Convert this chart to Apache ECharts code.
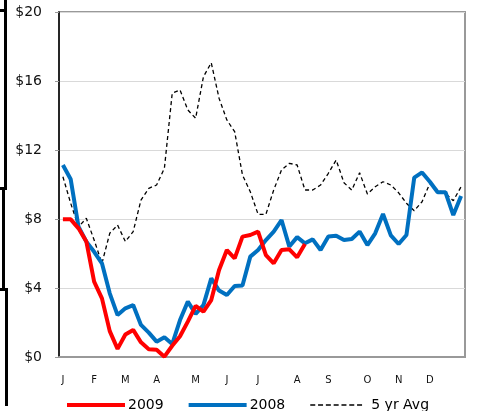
<!DOCTYPE html>
<html>
<head>
<meta charset="utf-8">
<script src="https://cdn.jsdelivr.net/npm/echarts@6/dist/echarts.min.js"></script>
<style>
html,body{margin:0;padding:0;background:#fff;}
#c{width:482px;height:411px;}
</style>
</head>
<body>
<div id="c"></div>
<script>
// Weekly data, 52 weeks
const weeks = Array.from({length: 52}, (_, i) => 'W' + (i + 1));
const monthTicks = ['J','F','M','A','M','J','J','A','S','O','N','D'];
const monthWeekIdx = [0,4,8,12,17,21,25,30,34,39,43,47];
const yTicks = [0, 4, 8, 12, 16, 20];
const seriesNames = ['2009', '2008', '5 yr Avg'];

const s2009 = [7.98,7.98,7.46,6.7,4.37,3.4,1.5,0.47,1.3,1.57,0.85,0.45,0.42,0.02,0.65,1.2,2.05,2.96,2.63,3.3,5.04,6.2,5.72,6.98,7.07,7.27,5.91,5.43,6.2,6.24,5.78,6.55,
  null,null,null,null,null,null,null,null,null,null,null,null,null,null,null,null,null,null,null,null];
const s2008 = [11.13,10.3,7.55,6.69,6.1,5.43,3.69,2.43,2.82,3.01,1.86,1.41,0.89,1.14,0.75,2.14,3.21,2.5,3.01,4.56,3.85,3.59,4.12,4.15,5.82,6.2,6.78,7.27,7.94,6.4,6.95,6.59,
  6.82,6.2,6.98,7.03,6.78,6.84,7.27,6.49,7.17,8.29,7.05,6.55,7.07,10.4,10.7,10.16,9.55,9.55,8.23,9.33];
const sAvg = [10.45,8.91,7.55,8.04,6.78,5.43,7.17,7.65,6.69,7.27,9.1,9.78,9.97,10.94,15.29,15.48,14.32,13.84,16.25,17.06,15.0,13.74,13.06,10.55,9.58,8.27,8.27,9.68,10.84,11.23,11.13,9.68,
  9.68,9.97,10.65,11.42,10.1,9.68,10.68,9.45,9.87,10.16,9.97,9.52,8.91,8.48,9.0,10.07,9.68,9.49,9.06,9.87];

const FONT = '"DejaVu Sans", Arial, sans-serif';
const chart = echarts.init(document.getElementById('c'), null, {renderer: 'canvas'});
const labelMap = {};
monthWeekIdx.forEach((w, k) => { labelMap[w] = monthTicks[k]; });

// dashed legend icon: 7 dashes over ~52px inside a 58x4 box
let dashPath = 'path://M0,0h0.01v0.01h-0.01z M57.99,3.99h0.01v0.01h-0.01z';
for (let k = 0; k < 7; k++) {
  dashPath += ' M' + (k * 7.8).toFixed(2) + ',1.2h5v1.6h-5z';
}

chart.setOption({
  animation: false,
  backgroundColor: '#fff',
  grid: {left: 59, right: 17, top: 12, bottom: 54, show: true, borderColor: '#999', borderWidth: 2, backgroundColor: 'transparent'},
  xAxis: {
    type: 'category',
    data: weeks,
    boundaryGap: true,
    axisLine: {show: true, lineStyle: {color: '#999', width: 2}},
    axisTick: {show: false},
    splitLine: {show: false},
    axisLabel: {
      interval: 0,
      margin: 18,
      fontFamily: FONT,
      fontSize: 10,
      color: '#111',
      formatter: (v, i) => labelMap[i] || ''
    }
  },
  yAxis: {
    type: 'value',
    min: yTicks[0],
    max: yTicks[yTicks.length - 1],
    interval: 4,
    axisLine: {show: true, lineStyle: {color: '#000', width: 1.5}},
    axisTick: {show: true, length: 4, lineStyle: {color: '#999'}},
    splitLine: {show: true, lineStyle: {color: '#d9d9d9', width: 1}},
    axisLabel: {
      margin: 17,
      fontFamily: FONT,
      fontSize: 14,
      color: '#111',
      formatter: v => '$' + v
    }
  },
  legend: {
    left: 67,
    top: 398,
    padding: 0,
    itemWidth: 58,
    itemHeight: 4,
    itemGap: 25,
    itemStyle: {borderWidth: 0},
    textStyle: {fontFamily: FONT, fontSize: 14, color: '#000', padding: [0, 0, 0, -2]},
    data: [
      {name: seriesNames[0], icon: 'rect'},
      {name: seriesNames[1], icon: 'rect'},
      {name: seriesNames[2], icon: dashPath}
    ]
  },
  series: [
    {name: seriesNames[2], type: 'line', data: sAvg, symbol: 'none', z: 1,
     lineStyle: {color: '#000', width: 1.3, type: [4, 3]}, itemStyle: {color: '#000'}},
    {name: seriesNames[0], type: 'line', data: s2009, symbol: 'none', z: 3,
     lineStyle: {color: '#ff0000', width: 4}, itemStyle: {color: '#ff0000'}},
    {name: seriesNames[1], type: 'line', data: s2008, symbol: 'none', z: 2,
     lineStyle: {color: '#0070c0', width: 4}, itemStyle: {color: '#0070c0'}}
  ],
  graphic: [
    {type: 'rect', shape: {x: 4, y: 0, width: 3, height: 190}, style: {fill: '#000'}, silent: true},
    {type: 'rect', shape: {x: 0, y: 9, width: 7, height: 3}, style: {fill: '#000'}, silent: true},
    {type: 'rect', shape: {x: 0, y: 187, width: 7, height: 3}, style: {fill: '#000'}, silent: true},
    {type: 'rect', shape: {x: 2, y: 187, width: 3, height: 104}, style: {fill: '#000'}, silent: true},
    {type: 'rect', shape: {x: 0, y: 288, width: 8, height: 3}, style: {fill: '#000'}, silent: true},
    {type: 'rect', shape: {x: 5, y: 288, width: 3, height: 118}, style: {fill: '#000'}, silent: true}
  ]
});
</script>
</body>
</html>
